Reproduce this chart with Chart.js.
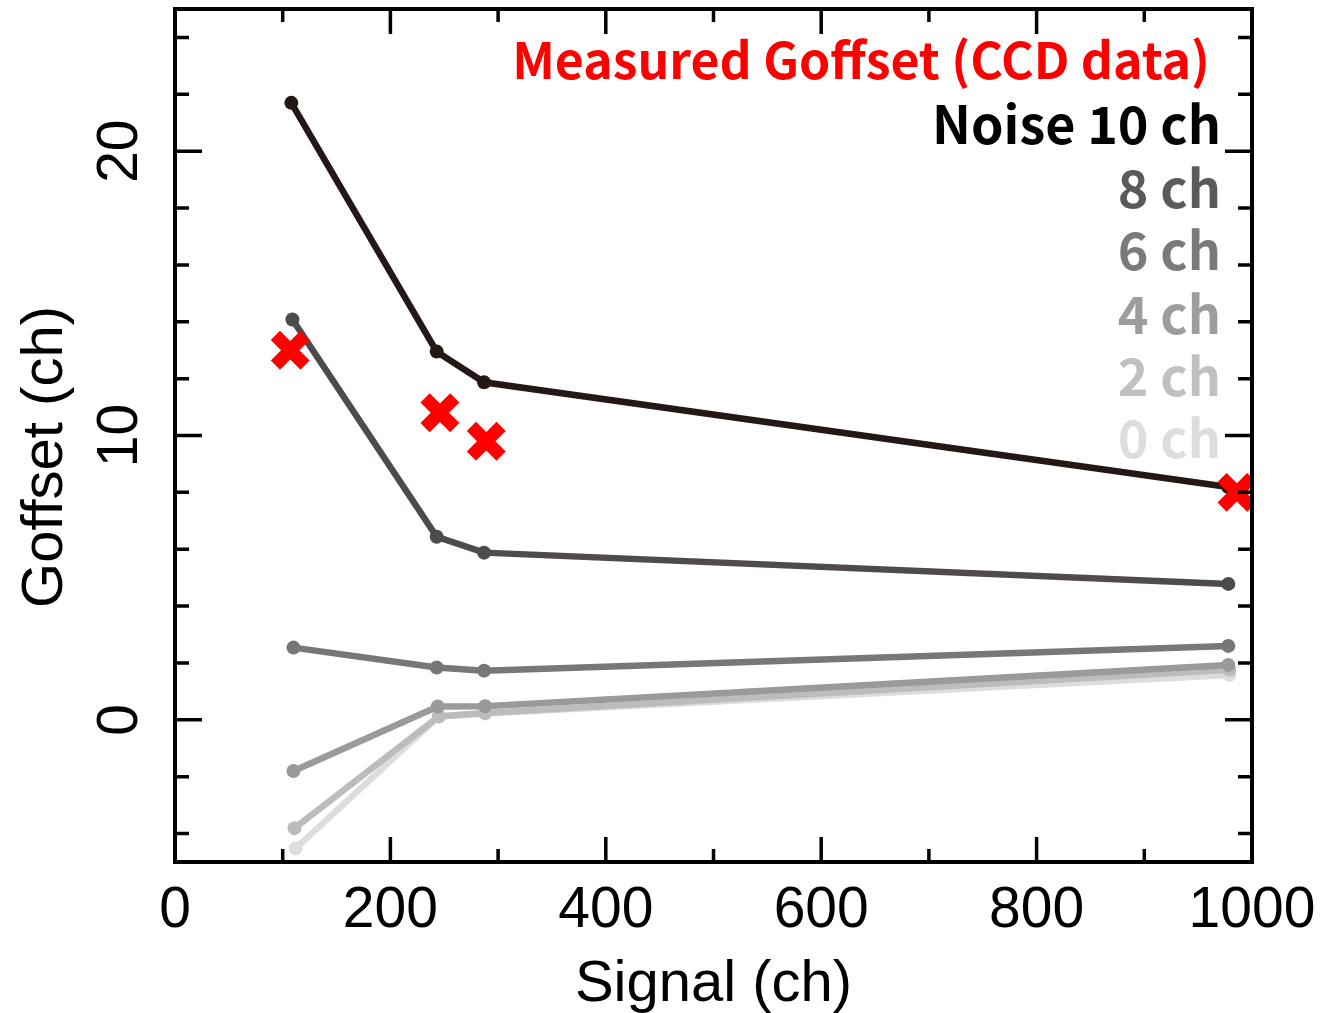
<!DOCTYPE html>
<html>
<head>
<meta charset="utf-8">
<script src="https://cdn.jsdelivr.net/npm/chart.js@4.4.1/dist/chart.umd.min.js"></script>
<style>
  html, body { margin: 0; padding: 0; background: #fff; }
  #wrap { width: 1324px; height: 1013px; }
</style>
</head>
<body>
<div id="wrap"><canvas id="chart"></canvas></div>
<script>
// --- data ---
const measuredX = [107, 246, 289, 986];
const measuredY = [13.0, 10.8, 9.8, 8.0];

const noise10X = [108, 243, 287, 978];
const noise10Y = [21.7, 12.95, 11.87, 8.19];
const noise8X = [109, 243, 287, 978];
const noise8Y = [14.08, 6.44, 5.88, 4.78];
const noise6X = [110, 243, 287, 978];
const noise6Y = [2.54, 1.84, 1.73, 2.60];
const noise4X = [110, 244, 288, 978];
const noise4Y = [-1.80, 0.47, 0.48, 1.93];
const noise2X = [111, 245, 288, 979];
const noise2Y = [-3.81, 0.12, 0.24, 1.76];
const noise0X = [112, 245, 288, 979];
const noise0Y = [-4.52, 0.12, 0.22, 1.58];

const xTicks = [0, 200, 400, 600, 800, 1000];
const yTickLabels = [0, 10, 20];

const legendLabels = ["Measured Goffset (CCD data)", "Noise 10 ch", "8 ch", "6 ch", "4 ch", "2 ch", "0 ch"];
const legendColors = ["#ff0000", "#000000", "#5a5a5a", "#7a7a7a", "#9d9d9d", "#c0c0c0", "#dcdddd"];

const toPts = (xs, ys) => xs.map((x, i) => ({ x, y: ys[i] }));

function lineSet(label, xs, ys, color) {
  return {
    label,
    data: toPts(xs, ys),
    borderColor: color,
    backgroundColor: color,
    borderWidth: 6.5,
    pointRadius: 7,
    pointBorderWidth: 0,
    showLine: true,
    tension: 0
  };
}

/* =========================
   FRAME + INWARD TICKS
========================= */
const framePlugin = {
  id: "frame",
  afterDatasetsDraw(chart) {
    const { ctx, chartArea: a, scales } = chart;
    const xs = scales.x, ys = scales.y;
    ctx.save();
    ctx.strokeStyle = "#000";
    ctx.lineWidth = 4;
    ctx.lineCap = "butt";
    ctx.strokeRect(a.left, a.top, a.right - a.left, a.bottom - a.top);

    ctx.lineWidth = 3.5;
    ctx.beginPath();
    for (let v = 0; v <= 1000; v += 100) {
      const px = xs.getPixelForValue(v);
      const len = v % 200 === 0 ? 25 : 13;
      ctx.moveTo(px, a.bottom); ctx.lineTo(px, a.bottom - len);
      ctx.moveTo(px, a.top); ctx.lineTo(px, a.top + len);
    }
    for (let v = -4; v <= 24; v += 2) {
      const py = ys.getPixelForValue(v);
      const len = v % 10 === 0 ? 27 : 14;
      ctx.moveTo(a.left, py); ctx.lineTo(a.left + len, py);
      ctx.moveTo(a.right, py); ctx.lineTo(a.right - len, py);
    }
    ctx.stroke();

    // rotated y tick labels + y title
    ctx.fillStyle = "#000";
    ctx.font = "57px 'Liberation Sans', Arial, sans-serif";
    ctx.textAlign = "center";
    ctx.textBaseline = "middle";
    yTickLabels.forEach(v => {
      const py = ys.getPixelForValue(v);
      ctx.save();
      ctx.translate(121, py);
      ctx.rotate(-Math.PI / 2);
      ctx.fillText(String(v), 0, 0);
      ctx.restore();
    });
    ctx.save();
    ctx.translate(46, 457);
    ctx.rotate(-Math.PI / 2);
    ctx.font = "58px 'Liberation Sans', Arial, sans-serif";
    ctx.fillText("Goffset (ch)", 0, 0);
    ctx.restore();

    // legend text, right aligned
    ctx.textAlign = "right";
    const rows = [60, 124, 188, 250, 314, 376, 438];
    legendLabels.forEach((t, i) => {
      ctx.fillStyle = legendColors[i];
      ctx.font = (i === 0 ? "bold 50px" : "bold 52px") + " 'Noto Sans CJK JP', 'Noto Sans', sans-serif";
      ctx.fillText(t, i === 0 ? 1210 : 1221, rows[i]);
    });
    ctx.restore();
  }
};

const ctx = document.getElementById("chart");

new Chart(ctx, {
  type: "scatter",
  data: {
    datasets: [
      {
        label: "Measured Goffset (CCD data)",
        data: toPts(measuredX, measuredY),
        pointStyle: "crossRot",
        pointRadius: 21,
        pointBorderWidth: 13,
        borderColor: "#ff0000",
        backgroundColor: "#ff0000",
        showLine: false
      },
      lineSet("Noise 10 ch", noise10X, noise10Y, "#231815"),
      lineSet("8 ch", noise8X, noise8Y, "#4f4b4b"),
      lineSet("6 ch", noise6X, noise6Y, "#777777"),
      lineSet("4 ch", noise4X, noise4Y, "#9a9a9a"),
      lineSet("2 ch", noise2X, noise2Y, "#bcbcbc"),
      lineSet("0 ch", noise0X, noise0Y, "#dcdddd")
    ]
  },
  options: {
    responsive: true,
    maintainAspectRatio: false,
    animation: false,
    layout: { autoPadding: false, padding: { top: 9, right: 72, left: 0, bottom: 0 } },
    plugins: {
      legend: { display: false },
      tooltip: { enabled: false }
    },
    scales: {
      x: {
        type: "linear",
        min: 0,
        max: 1000,
        grid: { display: false },
        border: { display: false },
        afterBuildTicks: s => { s.ticks = xTicks.map(v => ({ value: v })); },
        afterFit: s => {
          s.height = 151;
          s.paddingLeft = 0; s.paddingRight = 0;
          s.paddingTop = 0; s.paddingBottom = 0;
        },
        ticks: {
          color: "#000",
          padding: 7,
          maxRotation: 0,
          callback: v => String(v),
          font: { family: "'Liberation Sans', Arial, sans-serif", size: 57 }
        },
        title: {
          display: true,
          text: "Signal (ch)",
          color: "#000",
          padding: { top: 0, bottom: -7 },
          font: { family: "'Liberation Sans', Arial, sans-serif", size: 58 }
        }
      },
      y: {
        type: "linear",
        min: -5,
        max: 25,
        grid: { display: false },
        border: { display: false },
        afterFit: s => {
          s.width = 175;
          s.paddingLeft = 0; s.paddingRight = 0;
          s.paddingTop = 0; s.paddingBottom = 0;
        },
        ticks: { display: false },
        title: { display: false }
      }
    }
  },
  plugins: [framePlugin]
});
</script>
</body>
</html>
